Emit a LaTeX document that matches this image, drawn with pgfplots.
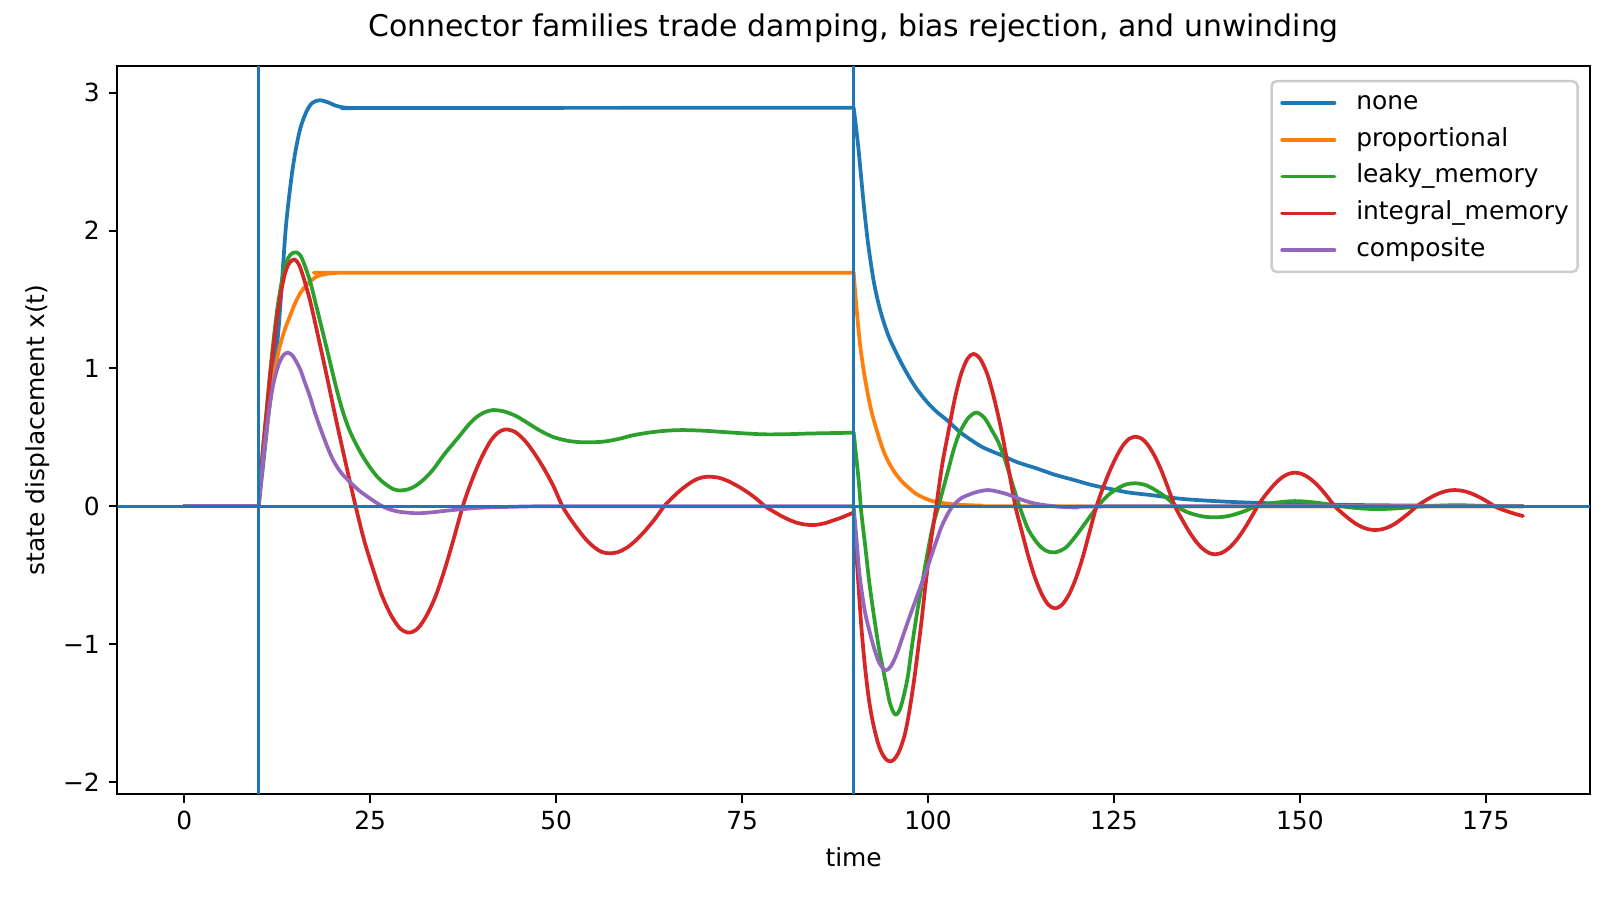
\documentclass[border=0pt]{standalone}
\usepackage{fontspec}
\setmainfont{DejaVu Sans}
\usepackage{pgfplots}
\pgfplotsset{compat=1.18}
\definecolor{c0}{HTML}{1F77B4}
\definecolor{c1}{HTML}{FF7F0E}
\definecolor{c2}{HTML}{2CA02C}
\definecolor{c3}{HTML}{D62728}
\definecolor{c4}{HTML}{9467BD}
\begin{document}
\begin{tikzpicture}
\path[use as bounding box] (0,0) rectangle (9in,5in);
\begin{axis}[
	at={(0.652in,0.589in)}, anchor=south west,
	scale only axis, width=8.181in, height=4.044in,
	xmin=-9, xmax=189, ymin=-2.086, ymax=3.193,
	axis line style={line width=0.8pt},
	tick align=outside, tick pos=left,
	major tick length=3.5pt,
	every tick/.style={black, line width=0.8pt},
	xtick={0,25,50,75,100,125,150,175},
	xticklabels={0,25,50,75,100,125,150,175},
	ytick={-2,-1,0,1,2,3},
	yticklabels={−2,−1,0,1,2,3},
	ticklabel style={font=\fontsize{10}{12}\selectfont},
	title={Connector families trade damping, bias rejection, and unwinding},
	title style={at={(axis description cs:0.5,1.0206)}, anchor=base, font=\fontsize{12}{14}\selectfont},
	xlabel={time},
	xlabel style={at={(axis description cs:0.5,-0.1003)}, anchor=base, font=\fontsize{10}{12}\selectfont},
	ylabel={state displacement x(t)},
	ylabel style={at={(axis description cs:-0.04917,0.5)}, anchor=base, font=\fontsize{10}{12}\selectfont},
	every axis plot/.append style={line width=1.5pt, line join=round, line cap=round},
	legend cell align=left,
	legend image code/.code={\draw[#1] (0pt,0pt) -- (21pt,0pt);},
	legend style={
		at={(axis description cs:0.9924,0.981)}, anchor=north east,
		draw={rgb,255:red,204;green,204;blue,204}, line width=1pt,
		rounded corners=2pt, fill=white,
		font=\fontsize{10}{12}\selectfont,
		inner xsep=3.5pt, inner ysep=3.75pt,
		row sep=4.9pt, column sep=8pt,
		nodes={inner sep=0pt, text height=7.5pt, text depth=2.4pt},
	},
]
% none
\addplot[c0] coordinates {(0,0) (10,0)};
\addlegendentry{none}
\addplot[c0, smooth, forget plot] coordinates {
	(10,0) (10.5,0.25) (11,0.5) (11.5,0.75) (12,0.98) (12.6,1.24) (13.1,1.6)
	(13.7,2.05) (14.6,2.46) (15.5,2.72) (16.4,2.86) (17.2,2.925) (18.2,2.945) (19.3,2.93)
	(20.4,2.905) (21.5,2.892) (23,2.886) (26,2.889) (90,2.89)
};
\addplot[c0, smooth, forget plot] coordinates {
	(90,2.89) (90.3,2.76) (90.67,2.58) (91,2.39) (91.43,2.15) (91.93,1.91) (92.55,1.68)
	(93,1.55) (93.58,1.42) (94.2,1.31) (94.8,1.22) (95.4,1.15) (96.5,1.03) (97.6,0.925)
	(98.5,0.85) (99.5,0.78) (100.4,0.725) (101.4,0.675) (102.7,0.618)
	(104.5,0.53) (107.2,0.433) (109.9,0.37) (112,0.32) (114.6,0.275) (117,0.23) (119.7,0.19)
	(122,0.155) (124.8,0.123) (127,0.1) (129.9,0.082) (132.5,0.064) (135,0.05) (140,0.034)
	(145,0.024) (150,0.017) (155,0.012) (160,0.008) (170,0.004) (180,0.002)
};
% proportional
\addplot[c1] coordinates {(0,0) (10,0)};
\addlegendentry{proportional}
\addplot[c1, smooth, forget plot] coordinates {
	(10,0) (10.5,0.3) (11.05,0.55) (11.5,0.74) (11.95,0.92) (12.4,1.05) (12.84,1.16)
	(13.5,1.28) (14.18,1.375) (14.8,1.46) (15.53,1.54) (16.5,1.61) (17.76,1.665) (19,1.685)
	(20.5,1.692) (22,1.694) (90,1.694)
};
\addplot[c1, smooth, forget plot] coordinates {
	(90,1.694) (90.45,1.40) (90.9,1.157) (91.56,0.916) (92.46,0.675) (93.8,0.433) (94.7,0.32)
	(95.6,0.24) (96.5,0.18) (97.5,0.13) (98.3,0.094) (99.5,0.06) (101,0.033) (103.6,0.014)
	(107.2,0.005) (112,0) (180,0)
};
% leaky_memory
\addplot[c2] coordinates {(0,0) (10,0)};
\addlegendentry{leaky\_memory}
\addplot[c2, smooth, forget plot] coordinates {
	(10,0) (10.5,0.37) (11.05,0.69) (11.5,0.95) (11.95,1.18) (12.5,1.43) (13.07,1.62)
	(13.5,1.73) (13.96,1.80) (14.5,1.835) (15.17,1.84) (15.8,1.8) (16.87,1.64) (17.76,1.45)
	(19.1,1.157) (20.4,0.867) (21.3,0.69) (22.2,0.553) (23.2,0.44) (24.2,0.345) (25.2,0.265)
	(26.2,0.2) (27.2,0.155) (28.1,0.125) (28.95,0.115) (30,0.122) (31,0.145) (32.2,0.195)
	(33.4,0.263) (35,0.38) (37,0.51) (38.2,0.59) (39.24,0.645) (40.3,0.68) (41.47,0.698)
	(43,0.688) (44.6,0.655) (46,0.61) (47.7,0.553) (49.5,0.505) (51.3,0.478) (52.8,0.467)
	(54.44,0.464) (56.5,0.47) (58.5,0.49) (60.3,0.515) (62.5,0.535) (64.7,0.548) (66.96,0.553)
	(70,0.548) (73,0.537) (76,0.527) (78.1,0.522) (81,0.523) (84,0.528) (87.9,0.532) (90,0.534)
};
\addplot[c2, smooth, forget plot] coordinates {
	(90,0.534) (90.67,0.19) (91,-0.03) (91.56,-0.29) (92.1,-0.55) (92.69,-0.78) (93.4,-1.03)
	(94.25,-1.26) (94.9,-1.43) (95.6,-1.51) (96.3,-1.46) (97.2,-1.26) (97.8,-1.03) (98.5,-0.78)
	(99.3,-0.53) (100.1,-0.29) (100.7,-0.13) (101.4,0) (102.7,0.26) (103.5,0.42) (104.3,0.54)
	(105.4,0.64) (106.5,0.68) (107.6,0.64) (108.6,0.55) (109.5,0.46) (110.4,0.33) (111.3,0.17)
	(112.3,0) (113.5,-0.17) (114.9,-0.28) (116,-0.325) (117.1,-0.334) (118.5,-0.3) (119.8,-0.22)
	(121.3,-0.11) (122.8,0) (124.2,0.08) (125.5,0.13) (126.7,0.16) (127.9,0.167) (129.2,0.155)
	(130.5,0.12) (132,0.065) (133.4,0) (135,-0.045) (136.8,-0.072) (138.6,-0.08) (140.4,-0.07)
	(142.3,-0.04) (144.2,0) (146.5,0.025) (149.3,0.038) (152,0.028) (155,0.005) (157.5,-0.012)
	(160.1,-0.02) (163,-0.015) (166,-0.002) (170.8,0.008) (175,0.003) (180,0)
};
% integral_memory
\addplot[c3] coordinates {(0,0) (10,0)};
\addlegendentry{integral\_memory}
\addplot[c3, smooth, forget plot] coordinates {
	(10,0) (10.5,0.36) (11.05,0.67) (11.5,0.92) (11.95,1.14) (12.5,1.38) (13.07,1.57)
	(13.5,1.68) (13.96,1.75) (14.4,1.78) (14.86,1.79) (15.4,1.755) (15.97,1.67) (16.87,1.50)
	(17.76,1.29) (19.1,0.96) (20.4,0.63) (21.8,0.29) (23.04,0) (24.2,-0.25) (25.4,-0.46)
	(26.6,-0.65) (27.8,-0.79) (29,-0.885) (30.2,-0.916) (31.4,-0.885) (32.6,-0.79) (33.8,-0.65)
	(35,-0.46) (36.2,-0.24) (37.44,0) (38.4,0.15) (39.35,0.28) (40.3,0.39) (41.26,0.48)
	(42.2,0.535) (43.17,0.558) (44.45,0.54) (45.73,0.48) (47,0.39) (48.29,0.28) (49.6,0.15)
	(50.85,0) (51.9,-0.09) (52.97,-0.17) (54,-0.24) (55.08,-0.295) (56.1,-0.33) (57.2,-0.341)
	(58.4,-0.33) (59.63,-0.295) (60.85,-0.24) (62.07,-0.17) (63.3,-0.09) (64.5,0) (65.5,0.056)
	(66.5,0.107) (67.5,0.15) (68.5,0.186) (69.5,0.208) (70.5,0.215) (71.8,0.208) (73,0.186)
	(74.3,0.15) (75.6,0.107) (76.9,0.056) (78.1,0) (79.15,-0.035) (80.2,-0.068) (81.25,-0.096)
	(82.3,-0.118) (83.35,-0.131) (84.4,-0.136) (85.35,-0.131) (86.3,-0.12) (87.25,-0.102)
	(88.2,-0.085) (89.1,-0.065) (90,-0.045)
};
\addplot[c3, smooth, forget plot] coordinates {
	(90,-0.045) (90.5,-0.45) (91,-0.85) (91.5,-1.15) (92,-1.38) (92.45,-1.53) (92.9,-1.64)
	(93.35,-1.73) (93.8,-1.79) (94.35,-1.835) (94.9,-1.85) (95.45,-1.835) (96.0,-1.79)
	(96.45,-1.73) (96.9,-1.65) (97.35,-1.53) (97.8,-1.38) (98.25,-1.21) (98.7,-1.02)
	(99.15,-0.82) (99.6,-0.6) (100.0,-0.42) (100.4,-0.25) (101.1,0) (101.9,0.3) (102.77,0.55)
	(103.6,0.78) (104.43,0.957) (105.3,1.07) (106.1,1.105) (107,1.07) (107.98,0.957)
	(108.9,0.78) (109.87,0.55) (110.8,0.28) (111.75,0) (112.65,-0.19) (113.53,-0.37)
	(114.4,-0.52) (115.32,-0.64) (116.2,-0.715) (117.1,-0.74) (118,-0.715) (118.95,-0.64)
	(119.9,-0.52) (120.8,-0.37) (121.7,-0.19) (122.65,0) (123.5,0.13) (124.4,0.2525)
	(125.3,0.357) (126.15,0.437) (127,0.488) (127.9,0.505) (128.8,0.488) (129.67,0.437)
	(130.55,0.357) (131.43,0.2525) (132.3,0.13) (133.2,0) (134.1,-0.09) (135,-0.174)
	(135.9,-0.246) (136.8,-0.301) (137.7,-0.336) (138.6,-0.348) (139.55,-0.336) (140.5,-0.301)
	(141.45,-0.246) (142.4,-0.174) (143.35,-0.09) (144.3,0) (145.1,0.063) (145.97,0.122)
	(146.8,0.172) (147.63,0.211) (148.5,0.236) (149.3,0.244) (150.2,0.236) (151.1,0.211)
	(152,0.172) (152.9,0.122) (153.8,0.063) (154.7,0) (155.6,-0.045) (156.5,-0.086)
	(157.4,-0.122) (158.3,-0.149) (159.2,-0.166) (160.1,-0.172) (161.05,-0.166) (162,-0.149)
	(162.9,-0.122) (163.8,-0.086) (164.75,-0.045) (165.7,0) (166.55,0.031) (167.4,0.059)
	(168.25,0.083) (169.1,0.102) (169.95,0.114) (170.8,0.118) (171.7,0.114) (172.6,0.102)
	(173.5,0.083) (174.4,0.059) (175.3,0.031) (176.2,0) (177.1,-0.022) (178.1,-0.04)
	(179,-0.056) (180,-0.07)
};
% composite
\addplot[c4] coordinates {(0,0) (10,0)};
\addlegendentry{composite}
\addplot[c4, smooth, forget plot] coordinates {
	(10,0) (10.5,0.3) (11.05,0.56) (11.5,0.74) (11.95,0.88) (12.4,0.98) (12.84,1.05)
	(13.4,1.1) (13.96,1.114) (14.6,1.09) (15.53,1.0) (16.2,0.9) (16.87,0.80) (17.5,0.69)
	(18.2,0.58) (19.1,0.45) (19.97,0.34) (21,0.25) (22.2,0.18) (23.5,0.115) (24.9,0.06)
	(26.3,0.01) (27.5,-0.02) (29,-0.04) (31.2,-0.05) (33,-0.045) (35,-0.033) (37.5,-0.02)
	(40,-0.01) (45,-0.002) (50,0) (90,0)
};
\addplot[c4, smooth, forget plot] coordinates {
	(90,0) (90.4,-0.25) (90.8,-0.5) (91.5,-0.76) (92.2,-0.92) (92.7,-1.02) (93.4,-1.13)
	(94.25,-1.19) (95,-1.16) (95.8,-1.07) (96.5,-0.96) (97.4,-0.82) (98.27,-0.69) (99,-0.58)
	(99.75,-0.47) (100.5,-0.35) (101.2,-0.24) (101.8,-0.15) (102.5,-0.07) (103.3,0) (104.5,0.06)
	(106.3,0.1) (108,0.118) (109.5,0.105) (110.8,0.085) (112.5,0.05) (114.4,0.02) (117.1,0)
	(120,-0.008) (125,0) (180,0)
};
% reference lines
\addplot[c0, line width=1pt, line cap=butt, forget plot] coordinates {(10,-2.086) (10,3.193)};
\addplot[c0, line width=1pt, line cap=butt, forget plot] coordinates {(90,-2.086) (90,3.193)};
\addplot[c0, line width=1pt, line cap=butt, forget plot] coordinates {(-9,0) (189,0)};
\end{axis}
\end{tikzpicture}
\end{document}
